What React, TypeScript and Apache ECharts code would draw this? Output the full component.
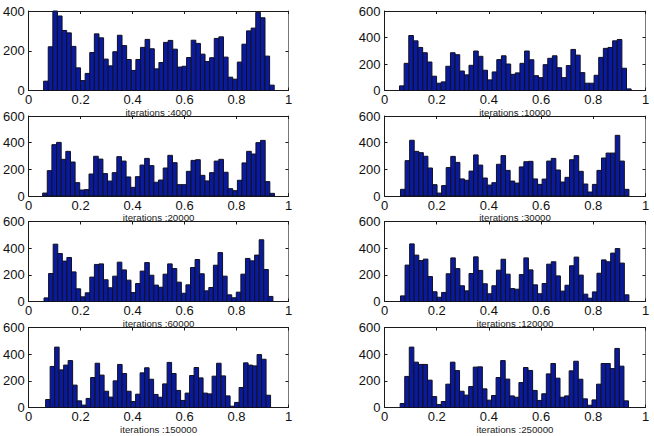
import React, { useEffect, useRef } from 'react';
import * as echarts from 'echarts';

const titles = [
  'iterations :4000',
  'iterations :10000',
  'iterations :20000',
  'iterations :30000',
  'iterations :60000',
  'iterations :120000',
  'iterations :150000',
  'iterations :250000',
];

// hist() spans each sample's own range, so the range differs per panel
const rangeStart = [0.0575, 0.0575, 0.0537, 0.0613, 0.059, 0.0613, 0.0652, 0.06];
const rangeEnd = [0.945, 0.945, 0.946, 0.9365, 0.94, 0.9365, 0.931, 0.935];
const yMax = [400, 600, 600, 600, 600, 600, 600, 600];

const counts4000 = [47, 220, 400, 375, 302, 290, 222, 114, 50, 86, 191, 285, 265, 158, 124, 195, 278, 226, 156, 101, 156, 217, 257, 210, 109, 141, 242, 252, 208, 118, 122, 166, 253, 237, 183, 146, 165, 262, 270, 168, 67, 57, 143, 233, 300, 314, 393, 366, 173, 27];
const counts10000 = [35, 205, 415, 375, 325, 285, 215, 108, 55, 65, 183, 285, 270, 147, 118, 190, 298, 258, 153, 80, 140, 233, 262, 200, 122, 133, 205, 298, 232, 112, 97, 195, 243, 262, 172, 97, 188, 310, 267, 135, 55, 55, 115, 250, 318, 325, 375, 385, 168, 12];
const counts20000 = [22, 190, 385, 402, 275, 335, 255, 100, 45, 48, 165, 298, 277, 168, 112, 175, 295, 262, 143, 65, 145, 232, 282, 228, 103, 120, 210, 305, 250, 85, 85, 185, 267, 272, 155, 113, 175, 262, 275, 178, 55, 40, 118, 248, 335, 315, 400, 417, 108, 20];
const counts30000 = [50, 265, 418, 335, 325, 298, 210, 85, 22, 78, 213, 297, 252, 128, 118, 187, 308, 232, 135, 82, 100, 238, 303, 192, 112, 97, 218, 257, 260, 128, 87, 127, 262, 282, 195, 105, 140, 272, 303, 185, 90, 30, 87, 192, 285, 322, 322, 455, 262, 50];
const counts60000 = [27, 210, 430, 360, 303, 330, 222, 95, 35, 65, 183, 278, 282, 163, 103, 190, 295, 237, 160, 67, 135, 228, 292, 197, 123, 107, 205, 282, 247, 145, 62, 125, 255, 315, 208, 80, 105, 272, 367, 190, 50, 28, 70, 205, 323, 305, 348, 463, 240, 38];
const counts120000 = [42, 273, 432, 348, 307, 318, 187, 73, 32, 68, 208, 327, 247, 118, 80, 210, 335, 233, 133, 58, 118, 235, 317, 205, 97, 92, 202, 327, 237, 125, 58, 135, 280, 298, 192, 78, 122, 268, 333, 198, 55, 25, 72, 212, 312, 298, 363, 397, 288, 50];
const counts150000 = [60, 308, 453, 282, 318, 352, 168, 50, 18, 68, 225, 332, 243, 122, 78, 200, 323, 255, 122, 45, 100, 260, 298, 212, 98, 77, 177, 338, 255, 128, 53, 108, 240, 300, 222, 108, 102, 235, 332, 237, 87, 10, 38, 150, 335, 318, 312, 397, 362, 92];
const counts250000 = [30, 233, 453, 340, 323, 323, 205, 82, 22, 45, 175, 340, 277, 122, 93, 157, 303, 305, 140, 55, 90, 225, 352, 213, 87, 77, 187, 300, 278, 128, 53, 103, 252, 330, 220, 77, 87, 275, 347, 212, 65, 17, 57, 175, 330, 330, 292, 443, 310, 50];

const allCounts = [counts4000, counts10000, counts20000, counts30000, counts60000, counts120000, counts150000, counts250000];

const columnLeft = [27.5, 384.5];
const rowTop = [11, 116, 221.5, 327.5];
const rowHeight = [79.5, 80, 80, 80];
const panelWidth = 261;

const LINE = '#1a1a1a';
const EDGE = '#777';
const BAR = '#0a1a9c';

const renderBin = (_params: any, api: any) => {
  const bottomLeft = api.coord([api.value(0), 0]);
  const topRight = api.coord([api.value(1), api.value(2)]);
  return {
    type: 'rect',
    shape: {
      x: bottomLeft[0],
      y: topRight[1],
      width: topRight[0] - bottomLeft[0],
      height: bottomLeft[1] - topRight[1],
    },
    style: { fill: BAR, stroke: '#101020', lineWidth: 1 },
  };
};

const buildOption = () => {
  const grid: any[] = [];
  const xAxis: any[] = [];
  const yAxis: any[] = [];
  const series: any[] = [];

  allCounts.forEach((counts, i) => {
    const row = Math.floor(i / 2);
    grid.push({
      left: columnLeft[i % 2],
      top: rowTop[row],
      width: panelWidth,
      height: rowHeight[row],
    });

    const tick = { inside: true, length: 3, lineStyle: { color: LINE, width: 1 } };
    const line = { onZero: false, lineStyle: { color: LINE, width: 1 } };

    xAxis.push(
      {
        type: 'value',
        gridIndex: i,
        position: 'bottom',
        min: 0,
        max: 1,
        interval: 0.2,
        axisLine: line,
        axisTick: tick,
        splitLine: { show: false },
        axisLabel: {
          color: '#111',
          fontSize: 13,
          fontFamily: 'Liberation Sans',
          margin: 2.5,
          alignMinLabel: 'center',
          alignMaxLabel: 'center',
          moveOverlap: false,
        },
        name: titles[i],
        nameLocation: 'middle',
        nameGap: 16.5,
        nameMoveOverlap: false,
        nameTextStyle: { color: '#222', fontSize: 9.7, fontFamily: 'Liberation Sans' },
      },
      {
        type: 'value',
        gridIndex: i,
        position: 'top',
        min: 0,
        max: 1,
        interval: 0.2,
        axisLine: line,
        axisTick: tick,
        axisLabel: { show: false },
        splitLine: { show: false },
      }
    );

    yAxis.push(
      {
        type: 'value',
        gridIndex: i,
        position: 'left',
        min: 0,
        max: yMax[i],
        interval: 200,
        axisLine: { ...line, show: true },
        axisTick: { ...tick, show: true },
        splitLine: { show: false },
        axisLabel: { color: '#111', fontSize: 13, fontFamily: 'Liberation Sans', margin: 4 },
      },
      {
        type: 'value',
        gridIndex: i,
        position: 'right',
        min: 0,
        max: yMax[i],
        interval: 200,
        axisLine: { onZero: false, show: true, lineStyle: { color: EDGE, width: 1 } },
        axisTick: { ...tick, show: true },
        axisLabel: { show: false },
        splitLine: { show: false },
      }
    );

    const binWidth = (rangeEnd[i] - rangeStart[i]) / counts.length;
    series.push({
      type: 'custom',
      xAxisIndex: i * 2,
      yAxisIndex: i * 2,
      renderItem: renderBin,
      encode: { x: [0, 1], y: 2 },
      data: counts.map((count, bin) => [
        rangeStart[i] + bin * binWidth,
        rangeStart[i] + (bin + 1) * binWidth,
        count,
      ]),
    });
  });

  return { animation: false, backgroundColor: '#fff', grid, xAxis, yAxis, series };
};

const App: React.FC = () => {
  const chartRef = useRef<HTMLDivElement>(null);

  useEffect(() => {
    document.body.style.margin = '0';
    if (!chartRef.current) return;
    const chart = echarts.init(chartRef.current, undefined, { renderer: 'svg' });
    chart.setOption(buildOption());
    return () => {
      chart.dispose();
    };
  }, []);

  return <div ref={chartRef} style={{ width: 654, height: 436 }} />;
};

export default App;
